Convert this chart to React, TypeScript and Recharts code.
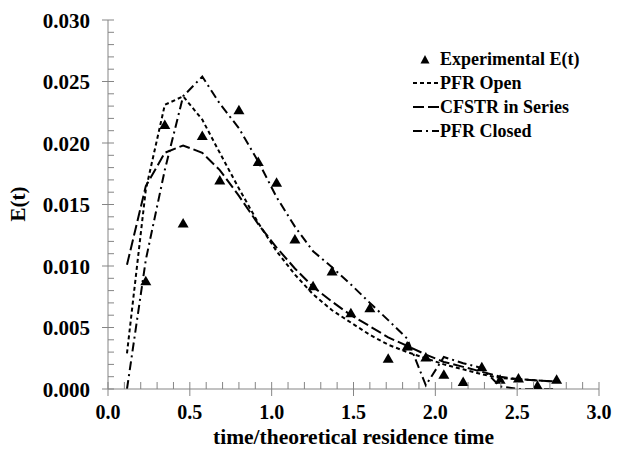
import { ComposedChart, Line, Scatter, XAxis, YAxis, Legend } from 'recharts';

// time/theoretical residence time at which the models were evaluated
const times = [
  0.116, 0.231, 0.347, 0.459, 0.576, 0.683, 0.8, 0.918, 1.03, 1.142, 1.253, 1.369,
  1.484, 1.6, 1.712, 1.828, 1.942, 2.052, 2.17, 2.284, 2.396, 2.508, 2.624, 2.741,
];

// experimental E(t), measured from the second time onwards
const experimental = [
  0.0088, 0.0215, 0.0135, 0.0206, 0.017, 0.0227, 0.0185, 0.0168, 0.0122, 0.0084, 0.0096,
  0.0062, 0.0066, 0.0025, 0.0035, 0.0026, 0.0012, 0.0006, 0.0018, 0.0008, 0.0009, 0.0003, 0.0008,
];

const pfrOpen = [
  0.0029, 0.0162, 0.0231, 0.0238, 0.0219, 0.0192, 0.0163, 0.0135, 0.0112, 0.0093, 0.0077, 0.0064,
  0.0054, 0.0044, 0.0036, 0.003, 0.0025, 0.002, 0.0016, 0.0012, 0.0009, 0.0008, 0.0007, 0.0006,
];

const cfstrSeries = [
  0.0101, 0.0165, 0.0192, 0.0198, 0.0192, 0.0178, 0.0157, 0.0134, 0.0115, 0.0098, 0.0083, 0.0071,
  0.006, 0.0051, 0.0042, 0.0035, 0.0028, 0.0022, 0.0018, 0.0014, 0.001, 0.0008, 0.0007, 0.0006,
];

const pfrClosed = [
  0, 0.0105, 0.0178, 0.0238, 0.0254, 0.0232, 0.0212, 0.0185, 0.0156, 0.0132, 0.0112, 0.0099,
  0.0085, 0.007, 0.0056, 0.0041, 0.0003, 0.0026, 0.0021, 0.0017, 0.0002, 0, 0, 0,
];

const xMajorTicks = [0, 0.5, 1, 1.5, 2, 2.5, 3];
const yMajorTicks = [0, 0.005, 0.01, 0.015, 0.02, 0.025, 0.03];
// minor ticks every 0.1 on x and every 0.001 on y
const xTicks = Array.from({ length: 31 }, (_, i) => i / 10);
const yTicks = Array.from({ length: 31 }, (_, i) => i / 1000);

const legendOrder = ['e', 'open', 'cfstr', 'closed'];

const lineData = times.map((t, i) => ({
  t,
  open: pfrOpen[i],
  cfstr: cfstrSeries[i],
  closed: pfrClosed[i],
}));

const expData = experimental.map((e, i) => ({ t: times[i + 1], e }));

const FONT = '"Liberation Serif", "Times New Roman", serif';
const AXIS_GREY = '#858585';

const dashes: Record<string, string> = {
  open: '4 3',
  cfstr: '11 4',
  closed: '9 4 2 4',
};

const isMajor = (v: number, majors: number[]) => majors.some((m) => Math.abs(m - v) < 1e-9);

const renderXTick = (props: any) => {
  const { x, y, payload } = props;
  const major = isMajor(payload.value, xMajorTicks);
  return (
    <g>
      <line x1={x} x2={x} y1={y - 7} y2={major ? y + 7 : y} stroke={AXIS_GREY} strokeWidth={1} />
      {major && (
        <text x={x} y={y + 30} textAnchor="middle" fontFamily={FONT} fontWeight="bold" fontSize={20} fill="#000">
          {payload.value.toFixed(1)}
        </text>
      )}
    </g>
  );
};

const renderYTick = (props: any) => {
  const { x, y, payload } = props;
  const major = isMajor(payload.value, yMajorTicks);
  return (
    <g>
      <line x1={major ? x - 6 : x} x2={x + 6} y1={y} y2={y} stroke={AXIS_GREY} strokeWidth={1} />
      {major && (
        <text x={x - 18} y={y + 7.5} textAnchor="end" fontFamily={FONT} fontWeight="bold" fontSize={21} fill="#000">
          {payload.value.toFixed(3)}
        </text>
      )}
    </g>
  );
};

const Triangle = (props: any) => {
  const { cx, cy } = props;
  return (
    <polygon
      points={`${cx - 5.5},${cy + 4.5} ${cx + 5.5},${cy + 4.5} ${cx},${cy - 5}`}
      fill="#000"
    />
  );
};

const renderLegend = (props: any) => {
  const items = [...(props.payload || [])].sort(
    (a: any, b: any) => legendOrder.indexOf(a.dataKey) - legendOrder.indexOf(b.dataKey)
  );
  return (
    <div style={{ fontFamily: FONT, fontWeight: 'bold', fontSize: 18, color: '#000' }}>
      {items.map((entry: any) => (
        <div key={entry.value} style={{ display: 'flex', alignItems: 'center', height: 24 }}>
          <svg width={28} height={24} style={{ display: 'block' }}>
            {entry.dataKey === 'e' ? (
              <polygon points="8.5,16.5 17.5,16.5 13,8" fill="#000" />
            ) : (
              <line x1={1} x2={27} y1={12} y2={12} stroke="#000" strokeWidth={2} strokeDasharray={dashes[entry.dataKey]} />
            )}
          </svg>
          <span style={{ whiteSpace: 'nowrap', lineHeight: '24px' }}>{entry.value}</span>
        </div>
      ))}
    </div>
  );
};

const renderYLabel = () => (
  <text
    x={25}
    y={204}
    transform="rotate(-90 25 204)"
    textAnchor="middle"
    fontFamily={FONT}
    fontWeight="bold"
    fontSize={21}
    fill="#000"
  >
    E(t)
  </text>
);

export default function App() {
  return (
    <div style={{ position: 'absolute', left: 0, top: 0, width: 620, height: 452, background: '#fff' }}>
      <ComposedChart width={620} height={452} data={lineData} margin={{ top: 20, right: 21, left: 0, bottom: 0 }}>
        <XAxis
          dataKey="t"
          type="number"
          domain={[0, 3]}
          ticks={xTicks}
          interval={0}
          height={63}
          stroke={AXIS_GREY}
          tickLine={false}
          tickSize={0}
          tickMargin={0}
          tick={renderXTick}
          allowDataOverflow
          label={{
            value: 'time/theoretical residence time',
            position: 'insideBottom',
            offset: 8,
            fontFamily: FONT,
            fontWeight: 'bold',
            fontSize: 21.5,
            fill: '#000',
          }}
        />
        <YAxis
          type="number"
          domain={[0, 0.03]}
          ticks={yTicks}
          interval={0}
          width={108}
          stroke={AXIS_GREY}
          tickLine={false}
          tickSize={0}
          tickMargin={0}
          tick={renderYTick}
          allowDataOverflow
          label={{ content: renderYLabel }}
        />
        <Legend
          layout="vertical"
          align="center"
          verticalAlign="middle"
          content={renderLegend}
          wrapperStyle={{ left: 412, top: 47, width: 200 }}
        />
        <Scatter
          name="Experimental E(t)"
          data={expData}
          dataKey="e"
          shape={Triangle}
          legendType="triangle"
          isAnimationActive={false}
        />
        <Line
          name="PFR Open"
          dataKey="open"
          type="linear"
          stroke="#000"
          strokeWidth={2}
          strokeDasharray={dashes.open}
          dot={false}
          isAnimationActive={false}
        />
        <Line
          name="CFSTR in Series"
          dataKey="cfstr"
          type="linear"
          stroke="#000"
          strokeWidth={2}
          strokeDasharray={dashes.cfstr}
          dot={false}
          isAnimationActive={false}
        />
        <Line
          name="PFR Closed"
          dataKey="closed"
          type="linear"
          stroke="#000"
          strokeWidth={2}
          strokeDasharray={dashes.closed}
          dot={false}
          isAnimationActive={false}
        />
      </ComposedChart>
    </div>
  );
}
